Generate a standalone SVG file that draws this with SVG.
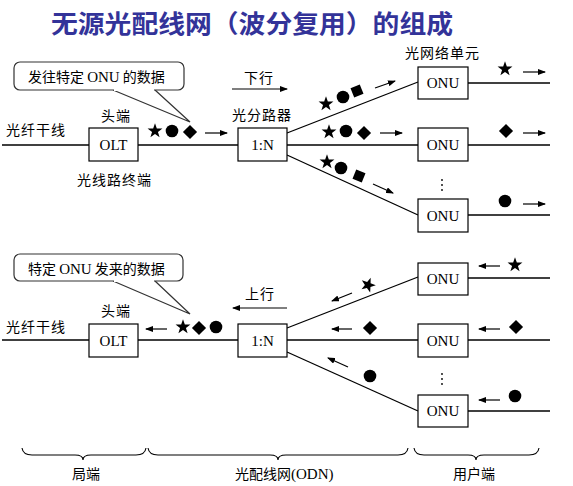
<svg xmlns="http://www.w3.org/2000/svg" width="573" height="486" viewBox="0 0 573 486">
<style>
.t{font-family:"Noto Sans CJK SC","Liberation Sans",sans-serif;font-size:14px;fill:#000}
.l{letter-spacing:1px}
.s{font-family:"Liberation Serif",serif;font-size:15px;fill:#000;letter-spacing:0}
.title{font-family:"Noto Sans CJK SC",sans-serif;font-size:25px;font-weight:bold;fill:#333399}
.box{fill:#fff;stroke:#000;stroke-width:1.2}
.ln{fill:none;stroke:#000;stroke-width:1.3}
.ar{fill:none;stroke:#000;stroke-width:1.2;marker-end:url(#ah)}
.call{fill:#fff;stroke:#333;stroke-width:1.2}
.br{fill:none;stroke:#000;stroke-width:1.1}
</style>
<defs>
<marker id="ah" markerWidth="8" markerHeight="6" refX="7" refY="3" orient="auto" markerUnits="userSpaceOnUse">
<path d="M0,0 L8,3 L0,6 Z" fill="#000"/>
</marker>
<path id="star" d="M0,-7.8 L1.83,-2.53 L7.42,-2.41 L2.96,0.97 L4.59,6.31 L0,3.12 L-4.59,6.31 L-2.96,0.97 L-7.42,-2.41 L-1.83,-2.53 Z" fill="#000"/>
<circle id="dot" r="6.3" fill="#000"/>
<rect id="sq" x="-5" y="-5" width="10" height="10" fill="#000"/>
</defs>

<text class="title" x="51" y="33" textLength="402" lengthAdjust="spacingAndGlyphs">无源光配线网（波分复用）的组成</text>

<!-- connectors -->
<g id="connectors">
<line class="ln" x1="2" y1="145" x2="89" y2="145"/>
<line class="ln" x1="138" y1="145" x2="238" y2="145"/>
<line class="ln" x1="287" y1="133" x2="418" y2="82"/>
<line class="ln" x1="287" y1="145" x2="418" y2="145"/>
<line class="ln" x1="287" y1="155" x2="418" y2="215"/>
<line class="ln" x1="468" y1="83" x2="550" y2="83"/>
<line class="ln" x1="468" y1="145" x2="550" y2="145"/>
<line class="ln" x1="468" y1="215" x2="550" y2="215"/>
<line class="ln" x1="2" y1="340" x2="89" y2="340"/>
<line class="ln" x1="138" y1="340" x2="238" y2="340"/>
<line class="ln" x1="287" y1="328" x2="418" y2="277"/>
<line class="ln" x1="287" y1="340" x2="418" y2="340"/>
<line class="ln" x1="287" y1="352" x2="418" y2="411"/>
<line class="ln" x1="468" y1="278" x2="550" y2="278"/>
<line class="ln" x1="468" y1="340" x2="550" y2="340"/>
<line class="ln" x1="468" y1="411" x2="550" y2="411"/>
<line class="ar" x1="232" y1="89" x2="287" y2="89"/>
<line class="ar" x1="205" y1="133" x2="227" y2="133"/>
<line class="ar" x1="375" y1="88" x2="395" y2="81"/>
<line class="ar" x1="380" y1="133" x2="402" y2="133"/>
<line class="ar" x1="373" y1="184" x2="393" y2="193"/>
<line class="ar" x1="523" y1="72" x2="545" y2="72"/>
<line class="ar" x1="523" y1="133" x2="545" y2="133"/>
<line class="ar" x1="523" y1="204" x2="545" y2="204"/>
<line class="ar" x1="287" y1="308" x2="233" y2="308"/>
<line class="ar" x1="167" y1="329" x2="146" y2="329"/>
<line class="ar" x1="352" y1="293" x2="332" y2="301"/>
<line class="ar" x1="352" y1="329" x2="332" y2="329"/>
<line class="ar" x1="348" y1="367" x2="328" y2="358"/>
<line class="ar" x1="500" y1="266" x2="479" y2="266"/>
<line class="ar" x1="500" y1="329" x2="479" y2="329"/>
<line class="ar" x1="500" y1="400" x2="479" y2="400"/>
</g>

<!-- data symbols -->
<g id="symbols">
<use href="#star" x="155" y="131"/>
<use href="#dot" x="172" y="131"/>
<use href="#sq" transform="translate(190,132) rotate(45)"/>
<use href="#star" x="326" y="104"/>
<use href="#dot" x="343" y="97"/>
<use href="#sq" transform="translate(357,91) rotate(-22)"/>
<use href="#star" x="329" y="132"/>
<use href="#dot" x="346" y="131"/>
<use href="#sq" transform="translate(364,133) rotate(45)"/>
<use href="#star" x="327" y="162"/>
<use href="#dot" x="341" y="168"/>
<use href="#sq" transform="translate(359,176) rotate(22)"/>
<use href="#star" x="505" y="69"/>
<use href="#sq" transform="translate(506,131) rotate(45)"/>
<use href="#dot" x="505" y="201"/>
<use href="#star" x="183" y="327"/>
<use href="#sq" transform="translate(199,328) rotate(45)"/>
<use href="#dot" x="216" y="327"/>
<use href="#star" transform="translate(368,285) rotate(20)"/>
<use href="#sq" transform="translate(370,328) rotate(45)"/>
<use href="#dot" x="370" y="376"/>
<use href="#star" x="515" y="265"/>
<use href="#sq" transform="translate(516,327) rotate(45)"/>
<use href="#dot" x="515" y="396"/>
</g>

<!-- callouts -->
<g id="callout-down">
<path class="call" d="M113,90 L190,122 L155,90"/>
<rect class="call" x="14" y="62" width="170" height="28" rx="6"/>
<line x1="114" y1="90" x2="154" y2="90" stroke="#fff" stroke-width="2"/>
<text class="t" x="28" y="82">发往特定 <tspan class="s">ONU</tspan> 的数据</text>
</g>
<g id="callout-up">
<path class="call" d="M113,281 L190,314 L155,281"/>
<rect class="call" x="14" y="254" width="169" height="27" rx="6"/>
<line x1="114" y1="281" x2="154" y2="281" stroke="#fff" stroke-width="2"/>
<text class="t" x="28" y="274">特定 <tspan class="s">ONU</tspan> 发来的数据</text>
</g>

<!-- downstream nodes -->
<g id="olt-down">
<rect class="box" x="89" y="128" width="49" height="33"/>
<text class="s" x="113.5" y="150" text-anchor="middle">OLT</text>
</g>
<g id="splitter-down">
<rect class="box" x="238" y="128" width="49" height="33"/>
<text class="s" x="262.5" y="150" text-anchor="middle">1:N</text>
</g>
<g id="onu-d1">
<rect class="box" x="418" y="67" width="50" height="32"/>
<text class="s" x="443" y="88" text-anchor="middle">ONU</text>
</g>
<g id="onu-d2">
<rect class="box" x="418" y="128" width="50" height="33"/>
<text class="s" x="443" y="150" text-anchor="middle">ONU</text>
</g>
<g id="onu-d3">
<rect class="box" x="418" y="199" width="50" height="33"/>
<text class="s" x="443" y="221" text-anchor="middle">ONU</text>
</g>

<!-- upstream nodes -->
<g id="olt-up">
<rect class="box" x="89" y="324" width="49" height="33"/>
<text class="s" x="113.5" y="346" text-anchor="middle">OLT</text>
</g>
<g id="splitter-up">
<rect class="box" x="238" y="324" width="49" height="33"/>
<text class="s" x="262.5" y="346" text-anchor="middle">1:N</text>
</g>
<g id="onu-u1">
<rect class="box" x="418" y="263" width="50" height="32"/>
<text class="s" x="443" y="284" text-anchor="middle">ONU</text>
</g>
<g id="onu-u2">
<rect class="box" x="418" y="324" width="50" height="33"/>
<text class="s" x="443" y="346" text-anchor="middle">ONU</text>
</g>
<g id="onu-u3">
<rect class="box" x="418" y="395" width="50" height="32"/>
<text class="s" x="443" y="416" text-anchor="middle">ONU</text>
</g>

<!-- vertical ellipsis -->
<g id="ellipsis" fill="#000">
<circle cx="442" cy="180" r="0.9"/><circle cx="442" cy="185" r="0.9"/><circle cx="442" cy="190" r="0.9"/>
<circle cx="442" cy="374" r="0.9"/><circle cx="442" cy="379" r="0.9"/><circle cx="442" cy="384" r="0.9"/>
</g>

<!-- labels -->
<g id="labels">
<text class="t l" x="6" y="135">光纤干线</text>
<text class="t l" x="101" y="121">头端</text>
<text class="t l" x="77" y="185">光线路终端</text>
<text class="t l" x="232" y="120">光分路器</text>
<text class="t l" x="244" y="83">下行</text>
<text class="t l" x="405" y="58">光网络单元</text>
<text class="t l" x="6" y="332">光纤干线</text>
<text class="t l" x="101" y="316">头端</text>
<text class="t l" x="245" y="299">上行</text>
</g>

<!-- braces -->
<g id="braces">
<path class="br" d="M22,448 Q23,455 32,455 L75,455 Q83,455 83,460 Q83,455 91,455 L136,455 Q145,455 146,448"/>
<path class="br" d="M148,448 Q149,455 158,455 L270,455 Q278,455 278,460 Q278,455 286,455 L398,455 Q407,455 408,448"/>
<path class="br" d="M414,448 Q415,455 424,455 L468,455 Q476,455 476,460 Q476,455 484,455 L529,455 Q538,455 539,448"/>
<text class="t" x="72" y="479">局端</text>
<text class="t" x="235" y="479">光配线网<tspan class="s">(ODN)</tspan></text>
<text class="t" x="453" y="479">用户端</text>
</g>
</svg>
